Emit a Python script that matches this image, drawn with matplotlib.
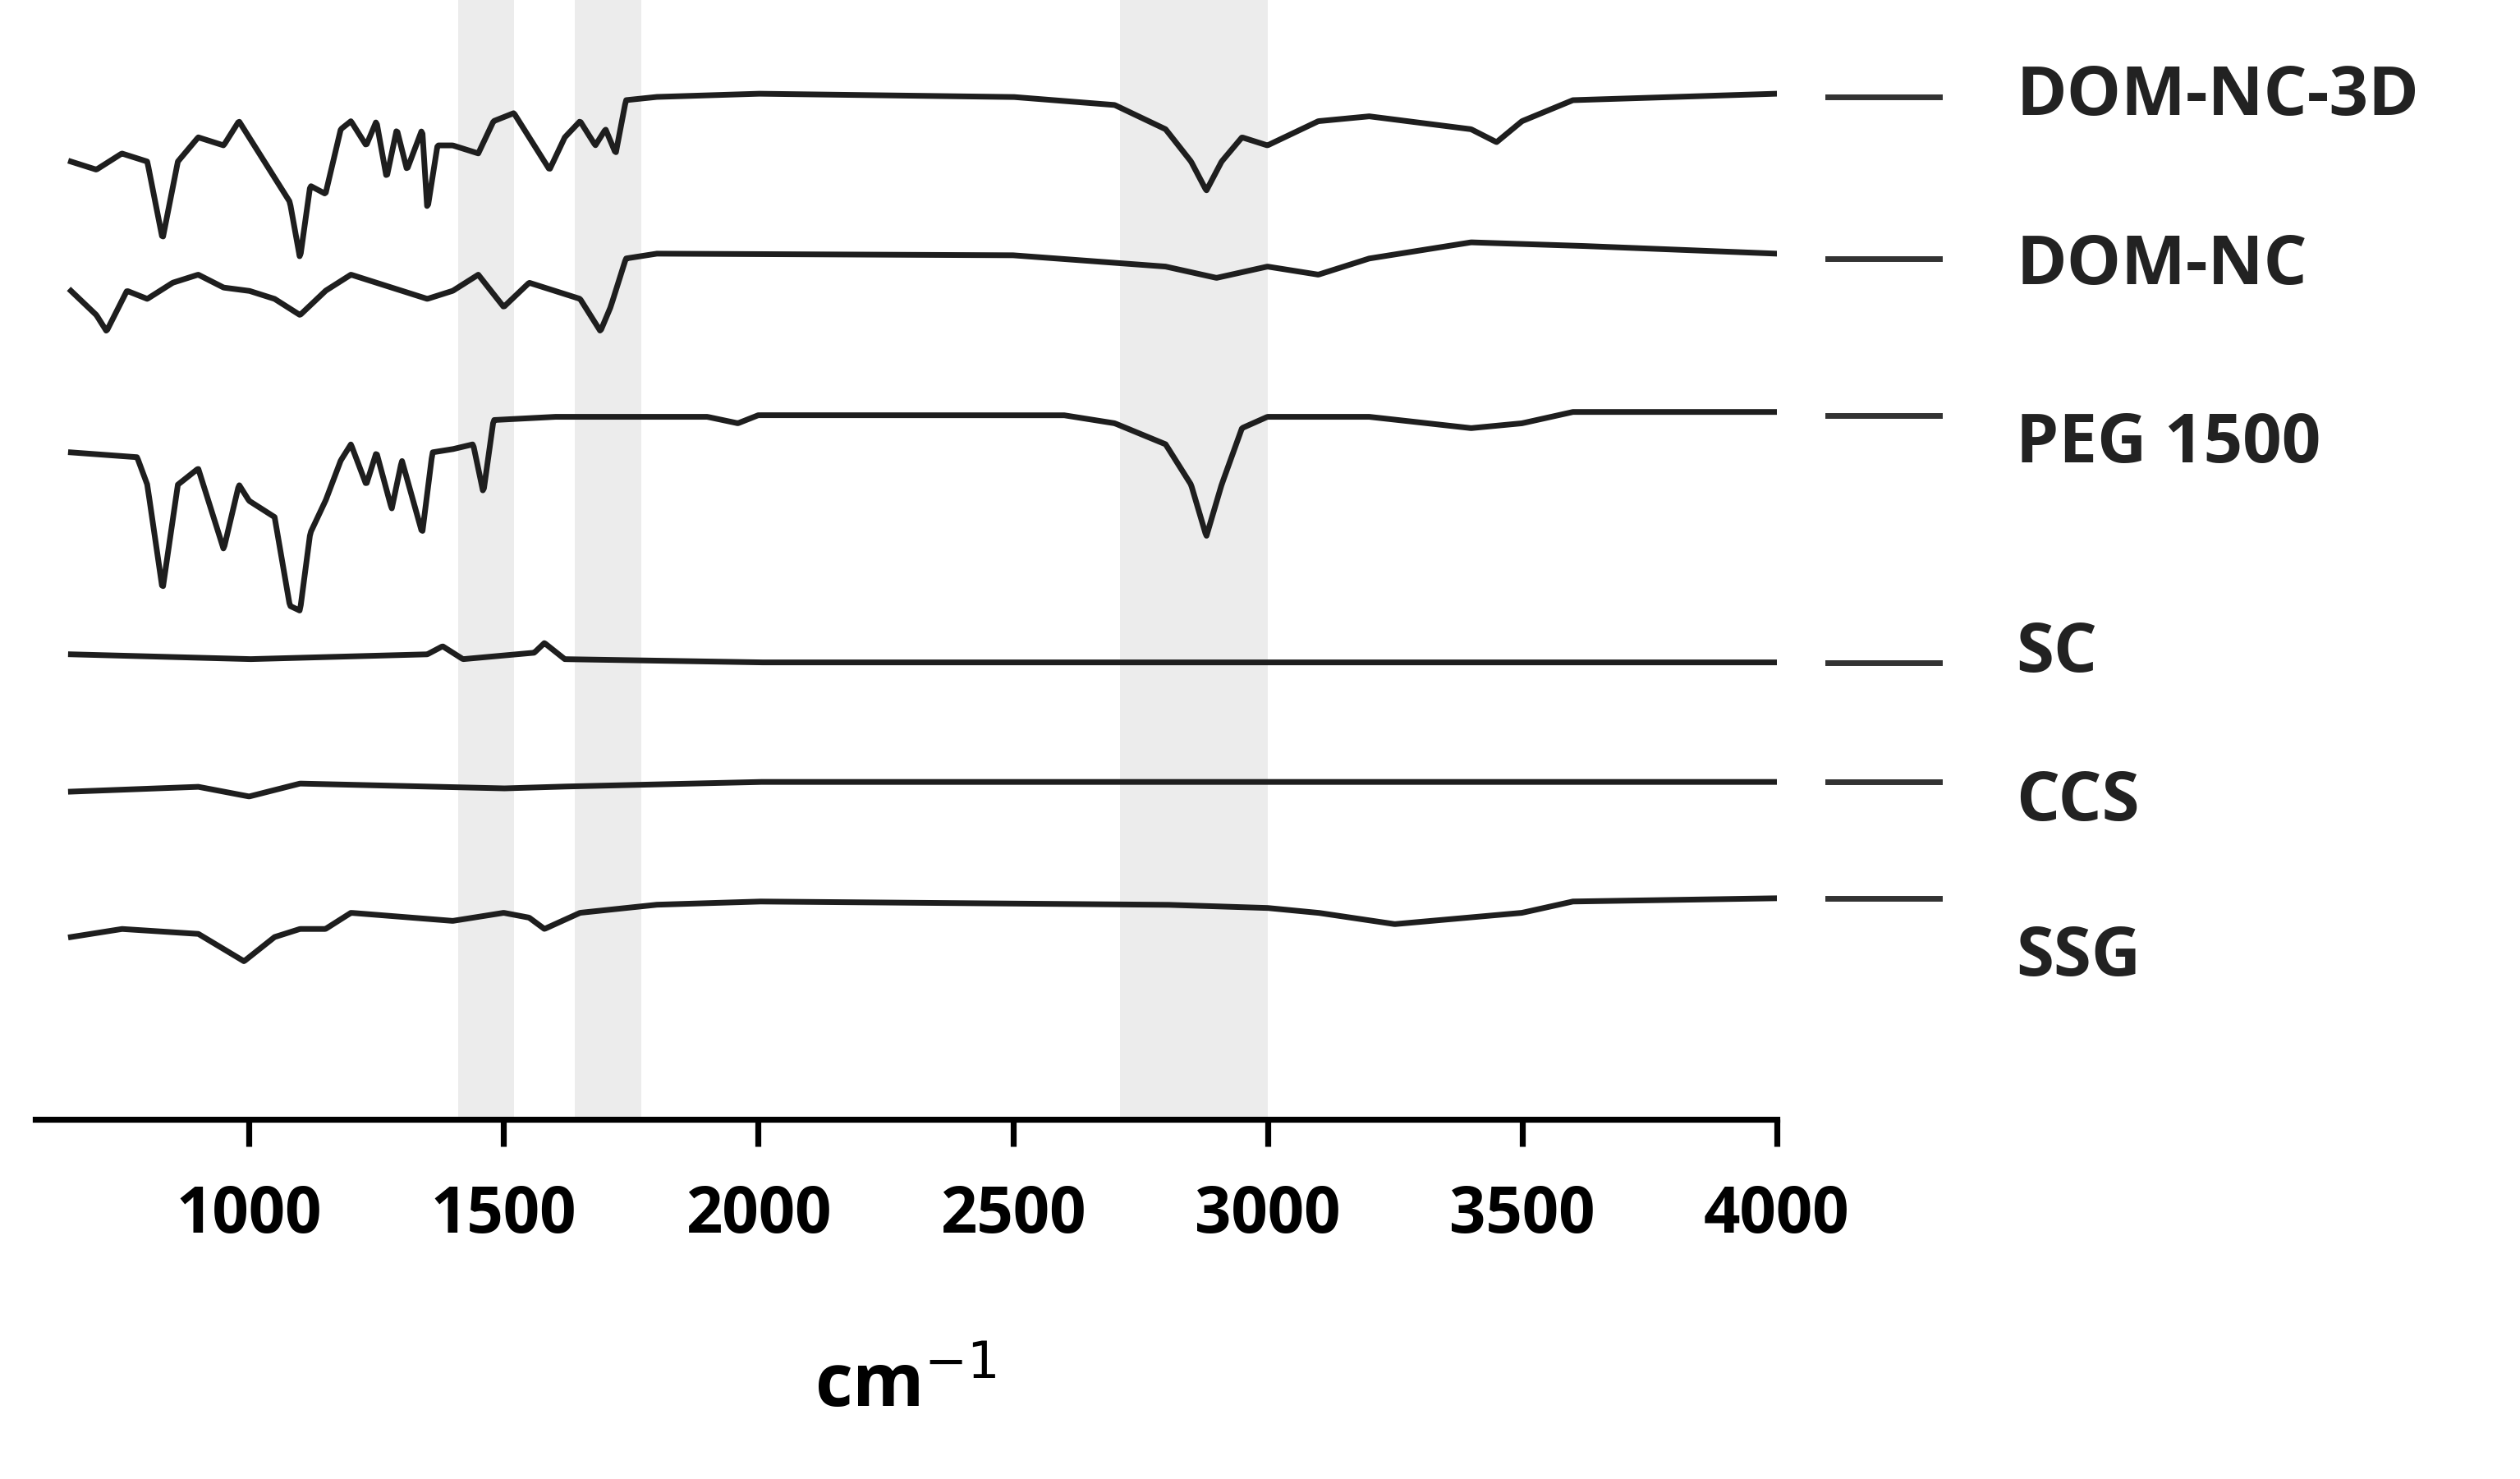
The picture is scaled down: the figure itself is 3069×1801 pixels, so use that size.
import matplotlib
matplotlib.use("Agg")
import matplotlib.pyplot as plt
import numpy as np

names = ["DOM-NC-3D", "DOM-NC", "PEG 1500", "SC", "CCS", "SSG"]
dash_y = [60, 160, 257, 410, 484, 556]
label_y = [60, 165, 275, 405, 497, 593]
bands = [(1410, 1520), (1640, 1770), (2710, 3000)]

dom3d_x = [650,700,750,800,830,860,900,950,980,1000,1050,1080,1100,1120,1150,1180,1200,1230,1250,1270,1290,1310,1340,1350,1370,1400,1450,1480,1520,1560,1590,1620,1650,1680,1700,1720,1740,1800,2000,2500,2700,2800,2850,2880,2910,2950,3000,3100,3200,3400,3450,3500,3600,4000]
dom3d_y = [100,105,95,100,148,100,85,90,75,85,110,125,160,115,120,80,75,90,75,110,80,105,80,130,90,90,95,75,70,90,105,85,75,90,80,95,62,60,58,60,65,80,100,118,100,85,90,75,72,80,88,75,62,58]
domnc_x = [650,700,720,760,800,850,900,950,1000,1050,1100,1150,1200,1250,1300,1350,1400,1450,1500,1550,1600,1650,1690,1710,1740,1800,2500,2800,2900,3000,3100,3200,3400,3600,4000]
domnc_y = [180,195,205,180,185,175,170,178,180,185,195,180,170,175,180,185,180,170,190,175,180,185,205,190,160,157,158,165,172,165,170,160,150,152,157]
peg_x = [650,780,800,830,860,900,950,980,1000,1050,1080,1100,1120,1150,1180,1200,1230,1250,1280,1300,1340,1360,1400,1440,1460,1480,1600,1900,1960,2000,2600,2700,2800,2850,2880,2910,2950,3000,3200,3400,3500,3600,4000]
peg_y = [280,283,300,365,300,290,340,300,310,320,375,378,330,310,285,275,300,280,315,285,330,280,278,275,305,260,258,258,262,257,257,262,275,300,332,300,265,258,258,265,262,255,255]
sc_x = [650,1000,1350,1380,1420,1560,1580,1620,2000,4000]
sc_y = [405,408,405,400,408,404,398,408,410,410]
ccs_x = [650,900,1000,1100,1500,1600,2000,4000]
ccs_y = [490,487,493,485,488,487,484,484]
ssg_x = [650,750,900,990,1050,1100,1150,1200,1400,1500,1550,1580,1650,1800,2000,2800,3000,3100,3250,3500,3600,4000]
ssg_y = [580,575,578,595,580,575,575,565,570,565,568,575,565,560,558,560,562,565,572,565,558,556]
series = [(dom3d_x, dom3d_y), (domnc_x, domnc_y), (peg_x, peg_y), (sc_x, sc_y), (ccs_x, ccs_y), (ssg_x, ssg_y)]
xticks = [1000, 1500, 2000, 2500, 3000, 3500, 4000]

plt.rcParams['font.family'] = ['Open Sans', 'DejaVu Sans']
fig = plt.figure(figsize=(15.345, 9.005), dpi=200)
ax = fig.add_axes([0.014, 0.243, 0.691, 0.757])
ax.set_xlim(580, 4000)
ax.set_ylim(693, 0)
for a, b in bands:
    ax.axvspan(a, b, color="#ececec", zorder=0, lw=0)
for x, y in series:
    xs = np.linspace(650, 4000, 1500)
    ax.plot(xs, np.interp(xs, x, y), color="#1e1e1e", lw=2.5, zorder=2, solid_joinstyle="round")
for n, dy, ly in zip(names, dash_y, label_y):
    ax.plot([4100, 4320], [dy, dy], color="#333333", lw=2.5, clip_on=False)
    ax.text(4470, ly, n, fontsize=30, fontweight="bold", va="center", ha="left", color="#222222")
for s in ["left", "right", "top"]:
    ax.spines[s].set_visible(False)
ax.spines["bottom"].set_linewidth(2.6)
ax.set_yticks([])
ax.set_xticks(xticks)
ax.set_xticklabels([str(t) for t in xticks], fontsize=28, fontweight="bold")
ax.tick_params(axis="x", length=12, width=2.6, pad=16)
ax.set_xlabel("cm$^{-1}$", fontsize=32, fontweight="bold", labelpad=45)
fig.savefig("out.png", dpi=200)
